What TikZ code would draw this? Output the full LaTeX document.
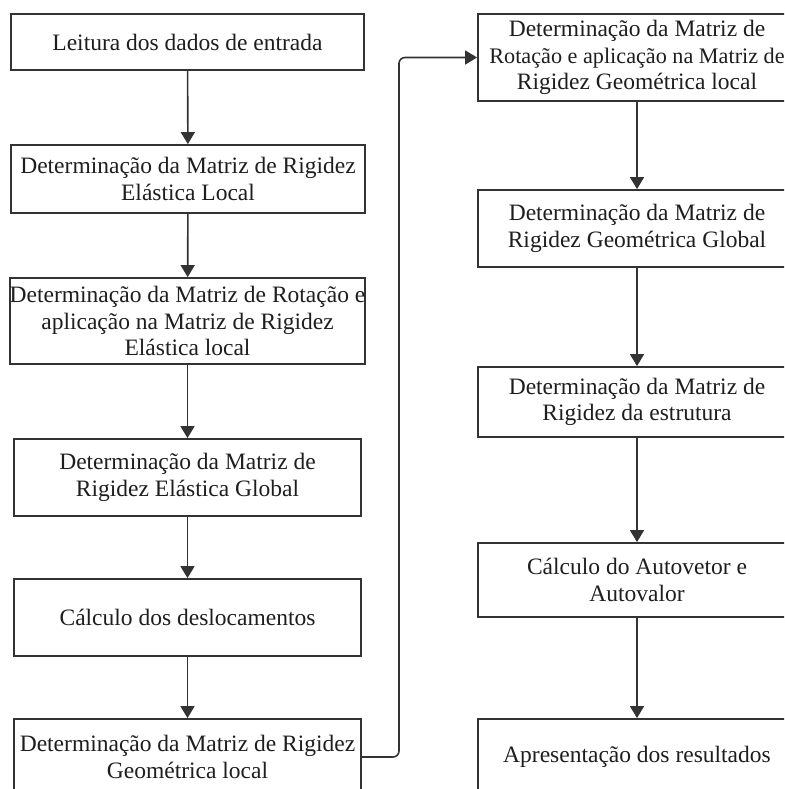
\documentclass[tikz,border=0pt]{standalone}
\usepackage{fontspec}
\setmainfont{Liberation Serif}
\usetikzlibrary{arrows.meta}
\definecolor{linec}{HTML}{333333}
\definecolor{textc}{HTML}{1E1E1E}
\begin{document}
\begin{tikzpicture}[x=1pt,y=-1pt,
  box/.style={draw=linec, line width=1.8pt, fill=white, rectangle, inner sep=0pt,
    align=center, text=textc, font=\fontsize{23.5}{26.5}\selectfont},
  arr/.style={draw=linec, line width=1.6pt, -{Triangle[length=12pt,width=14pt]}}]
\useasboundingbox (0,0) rectangle (784,789);
\clip (0,0) rectangle (784,789);
\fill[white] (0,0) rectangle (784,789);
% left column
\node[box, minimum width=353pt, minimum height=56pt] (l1) at (187.5,42) {Leitura dos dados de entrada};
\node[box, minimum width=354pt, minimum height=68pt] (l2) at (188,179) {Determinação da Matriz de Rigidez\\Elástica Local};
\node[box, minimum width=353pt, minimum height=86pt] (l3) at (187.5,321) {Determinação da Matriz de Rotação e\\aplicação na Matriz de Rigidez\\Elástica local};
\node[box, minimum width=347pt, minimum height=77pt] (l4) at (187.5,477.5) {Determinação da Matriz de\\Rigidez Elástica Global};
\node[box, minimum width=347pt, minimum height=77pt] (l5) at (187.5,617.5) {Cálculo dos deslocamentos};
\node[box, minimum width=347pt, minimum height=76pt] (l6) at (187.5,757) {Determinação da Matriz de Rigidez\\Geométrica local};
% right column
\node[box, minimum width=318pt, minimum height=87pt] (r1) at (637,57.5) {Determinação da Matriz de\\{\fontsize{22.2}{26.5}\selectfont Rotação e aplicação na Matriz de}\\Rigidez Geométrica local};
\node[box, minimum width=318pt, minimum height=77pt] (r2) at (637,228.5) {Determinação da Matriz de\\Rigidez Geométrica Global};
\node[box, minimum width=318pt, minimum height=70pt] (r3) at (637,402) {Determinação da Matriz de\\Rigidez da estrutura};
\node[box, minimum width=318pt, minimum height=74pt] (r4) at (637,580) {Cálculo do Autovetor e\\Autovalor};
\node[box, minimum width=318pt, minimum height=76pt] (r5) at (637,757) {Apresentação dos resultados};
% connectors
\draw[arr] (l1) -- (l2);
\draw[arr] (l2) -- (l3);
\draw[arr] (l3) -- (l4);
\draw[arr] (l4) -- (l5);
\draw[arr] (l5) -- (l6);
\draw[arr] (r1) -- (r2);
\draw[arr] (r2) -- (r3);
\draw[arr] (r3) -- (r4);
\draw[arr] (r4) -- (r5);
\coordinate (bx) at (399,0);
\draw[arr, rounded corners=6pt] (l6.east) -| (bx |- r1.west) -- (r1.west);
\end{tikzpicture}
\end{document}
